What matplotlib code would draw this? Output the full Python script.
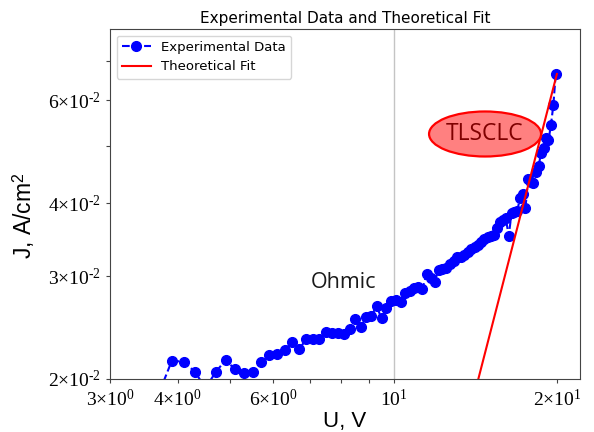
import numpy as np
import matplotlib
matplotlib.use("Agg")
import matplotlib.pyplot as plt
from matplotlib.patches import Ellipse
from matplotlib.ticker import FixedLocator, FixedFormatter, NullFormatter

# voltage (V) and current density (A/cm^2)
U = [3.7, 3.9, 4.1, 4.3, 4.5, 4.7, 4.9, 5.1, 5.3, 5.5,
     5.7, 5.9, 6.1, 6.3, 6.5, 6.7, 6.9, 7.1, 7.3, 7.5,
     7.7, 7.9, 8.1, 8.3, 8.5, 8.7, 8.9, 9.1, 9.3, 9.5,
     9.7, 9.9, 10.1, 10.3, 10.5, 10.7, 10.9, 11.1, 11.3, 11.5,
     11.7, 11.9, 12.1, 12.3, 12.5, 12.7, 12.9, 13.1, 13.3, 13.5,
     13.7, 13.9, 14.1, 14.3, 14.5, 14.7, 14.9, 15.1, 15.3, 15.5,
     15.7, 15.9, 16.1, 16.3, 16.5, 16.7, 16.9, 17.1, 17.3, 17.5,
     17.7, 17.9, 18.1, 18.3, 18.5, 18.7, 18.9, 19.1, 19.3, 19.5,
     19.7, 19.9]
J = [0.01900, 0.02149, 0.02141, 0.02058, 0.01930, 0.02056, 0.02155, 0.02078, 0.02045, 0.02056,
     0.02138, 0.02196, 0.02207, 0.02242, 0.02313, 0.02253, 0.02337, 0.02338, 0.02338, 0.02409,
     0.02394, 0.02400, 0.02388, 0.02432, 0.02530, 0.02457, 0.02550, 0.02563, 0.02666, 0.02540,
     0.02642, 0.02722, 0.02730, 0.02711, 0.02803, 0.02834, 0.02862, 0.02873, 0.02850, 0.03024,
     0.02973, 0.02933, 0.03072, 0.03080, 0.03102, 0.03145, 0.03189, 0.03229, 0.03237, 0.03259,
     0.03301, 0.03337, 0.03370, 0.03396, 0.03430, 0.03471, 0.03498, 0.03512, 0.03526, 0.03624,
     0.03715, 0.03740, 0.03770, 0.03512, 0.03849, 0.03865, 0.03875, 0.04079, 0.04139, 0.03917,
     0.04396, 0.04344, 0.04322, 0.04519, 0.04627, 0.04864, 0.04967, 0.05160, 0.05125, 0.05437,
     0.05883, 0.06638]

# TLSCLC power-law fit (straight line in log-log)
U_fit = [14.0, 20.0]
J_fit = [0.0184, 0.0665]

# tick positions and labels
xticks = [3, 4, 6, 10, 20]
xlabels = [r'$3{\times}10^{0}$', r'$4{\times}10^{0}$', r'$6{\times}10^{0}$',
           r'$10^{1}$', r'$2{\times}10^{1}$']
xminor = [5, 7, 8, 9]
yticks = [0.02, 0.03, 0.04, 0.06]
ylabels = [r'$2{\times}10^{\text{-}2}$', r'$3{\times}10^{\text{-}2}$',
           r'$4{\times}10^{\text{-}2}$', r'$6{\times}10^{\text{-}2}$']
yminor = [0.05, 0.07]

plt.rcParams['mathtext.fontset'] = 'custom'
plt.rcParams['mathtext.rm'] = 'Liberation Serif'
plt.rcParams['mathtext.it'] = 'Liberation Serif'
plt.rcParams['mathtext.sf'] = 'Liberation Sans'

fig = plt.figure(figsize=(5.94, 4.32), dpi=100)
ax = fig.add_axes([0.1852, 0.1227, 0.7912, 0.8102])

ax.axvline(10, color='#c4c4c4', lw=1.0, zorder=0)
ax.plot(U, J, '--o', color='blue', lw=1.5, ms=7, label='Experimental Data')
ax.plot(U_fit, J_fit, '-', color='red', lw=1.5, label='Theoretical Fit')

ax.set_xscale('log')
ax.set_yscale('log')
ax.set_xlim(3.0, 22.06)
ax.set_ylim(0.0200, 0.0794)

ax.xaxis.set_major_locator(FixedLocator(xticks))
ax.xaxis.set_major_formatter(FixedFormatter(xlabels))
ax.xaxis.set_minor_locator(FixedLocator(xminor))
ax.xaxis.set_minor_formatter(NullFormatter())
ax.yaxis.set_major_locator(FixedLocator(yticks))
ax.yaxis.set_major_formatter(FixedFormatter(ylabels))
ax.yaxis.set_minor_locator(FixedLocator(yminor))
ax.yaxis.set_minor_formatter(NullFormatter())

ax.tick_params(which='both', labelsize=14, length=3, width=0.8, color='#444444')
ax.tick_params(axis='x', pad=4)
for s in ax.spines.values():
    s.set_color('#444444')

ax.set_title('Experimental Data and Theoretical Fit', fontsize=11, pad=4)
ax.set_xlabel('U, V', fontsize=16, family='Liberation Sans', labelpad=1)
ax.set_ylabel(r'J, A/cm$^{\mathsf{2}}$', fontsize=16.5, family='Liberation Sans')
ax.yaxis.set_label_coords(-0.155, 0.466)

ax.legend(loc='upper left', fontsize=9.5, handlelength=2.2, borderaxespad=0.5)

# hand-drawn annotations
ell = Ellipse((0.798, 0.700), 0.2383, 0.1286, transform=ax.transAxes,
              facecolor='#ff8080', edgecolor='red', lw=1.6, zorder=5)
ax.add_patch(ell)
ax.text(0.798, 0.700, 'TLSCLC', transform=ax.transAxes, ha='center', va='center',
        fontsize=16.5, color='#7f0000', family='Open Sans', zorder=6)
ax.text(0.497, 0.277, 'Ohmic', transform=ax.transAxes, ha='center', va='center',
        fontsize=15.5, color='#1a1a1a', family='Open Sans', zorder=6)

fig.savefig('out.png', dpi=100)
